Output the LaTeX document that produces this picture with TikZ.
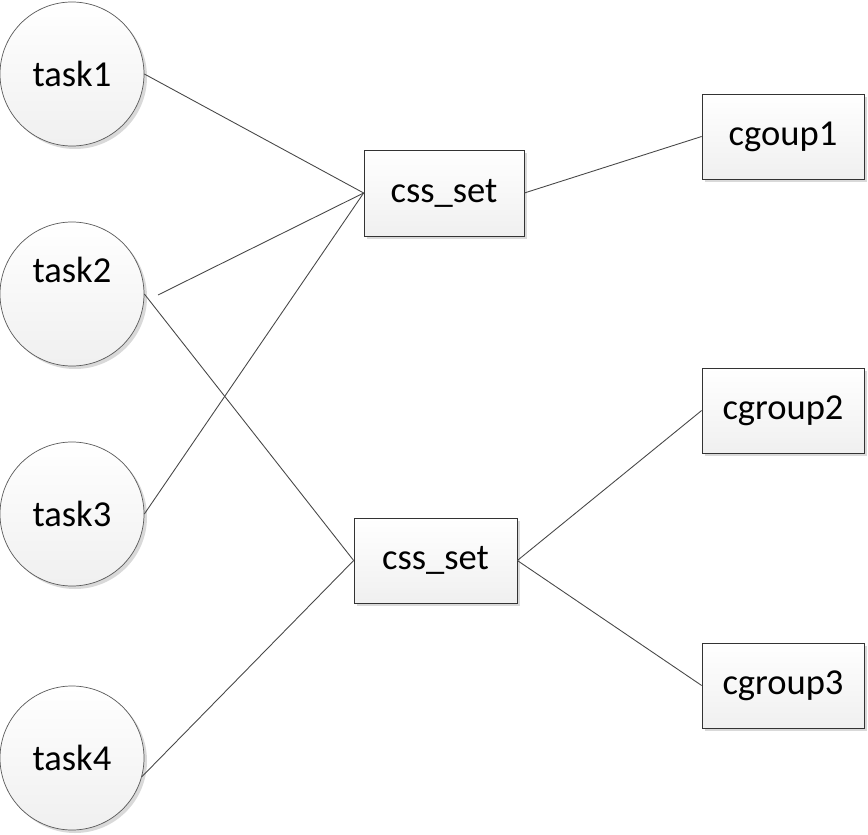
\documentclass[tikz,border=0pt]{standalone}
\usepackage{fontspec}
\setmainfont{Carlito}
\usetikzlibrary{shadows,positioning}

\begin{document}
\begin{tikzpicture}[
  task/.style={circle,draw=black!65,minimum size=2.88cm,inner sep=0pt,
    top color=white,bottom color=black!6,
    drop shadow={shadow xshift=0.06cm,shadow yshift=-0.06cm,fill=black!15,opacity=1}},
  setbox/.style={rectangle,draw=black!80,minimum width=3.2cm,minimum height=1.72cm,
    top color=white,bottom color=black!6,
    drop shadow={shadow xshift=0.06cm,shadow yshift=-0.06cm,fill=black!15,opacity=1}},
  link/.style={draw=black!72,line width=0.5pt}]
  \useasboundingbox (0,0) rectangle (17.36,16.68);
  \fontsize{20.8}{25}\selectfont
  %draw the tasks
  \node [task] (task1) at (1.44,15.20) {task1};
  \node [task,label={[yshift=0.48cm]center:task2}] (task2) at (1.44,10.80) {};
  \node [task] (task3) at (1.44,6.40) {task3};
  \node [task] (task4) at (1.44,1.52) {task4};
  %draw the css_sets
  \node [setbox] (set1) at (8.88,12.82) {css\_set};
  \node [setbox,minimum width=3.26cm,minimum height=1.70cm] (set2) at (8.71,5.47) {css\_set};
  %draw the cgroups
  \node [setbox,minimum width=3.24cm,minimum height=1.70cm] (cg1) at (15.66,13.95) {cgoup1};
  \node [setbox,minimum width=3.24cm,minimum height=1.70cm] (cg2) at (15.66,8.47) {cgroup2};
  \node [setbox,minimum width=3.24cm,minimum height=1.70cm] (cg3) at (15.66,2.97) {cgroup3};
  \coordinate (t2free) at (3.16,10.78);
  %draw the links
  \draw [link] (task1.east) -- (set1.west);
  \draw [link] (t2free) -- (set1.west);
  \draw [link] (task3.east) -- (set1.west);
  \draw [link] (task2.east) -- (set2.west);
  \draw [link] (task4.-15) -- (set2.west);
  \draw [link] (set1.east) -- (cg1.west);
  \draw [link] (set2.east) -- (cg2.west);
  \draw [link] (set2.east) -- (cg3.west);
\end{tikzpicture}
\end{document}
